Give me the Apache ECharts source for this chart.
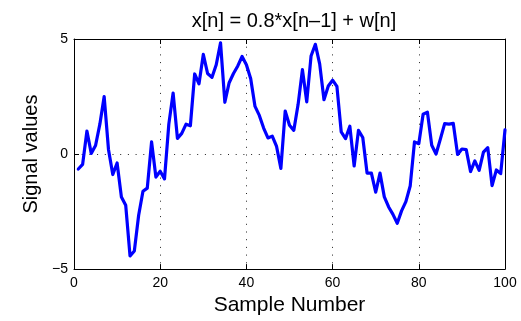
<!DOCTYPE html>
<html>
<head>
<meta charset="utf-8">
<script src="https://cdn.jsdelivr.net/npm/echarts@6/dist/echarts.min.js"></script>
<style>html,body{margin:0;padding:0;background:#fff}#c{width:521px;height:321px}</style>
</head>
<body>
<div id="c"></div>
<script>
var titleText = 'x[n] = 0.8*x[n\u20131] + w[n]';
var xName = 'Sample Number';
var yName = 'Signal values';
var sampleIndex = [];
for (var i = 1; i <= 100; i++) sampleIndex.push(i);
var signalValues = [
 -0.65, -0.45, 1.0, 0.03, 0.37, 1.3, 2.5, 0.2, -0.89, -0.39,
 -1.87, -2.23, -4.43, -4.21, -2.66, -1.62, -1.48, 0.53, -1.0, -0.75,
 -1.08, 1.3, 2.65, 0.68, 0.9, 1.3, 1.23, 3.48, 3.05, 4.33,
 3.5, 3.33, 3.88, 4.83, 2.25, 3.1, 3.5, 3.83, 4.24, 3.88,
 3.27, 2.07, 1.68, 1.13, 0.7, 0.78, 0.33, -0.62, 1.87, 1.25,
 1.03, 2.16, 3.67, 2.27, 4.26, 4.77, 3.92, 2.36, 2.96, 3.21,
 2.94, 0.96, 0.67, 1.21, -0.52, 1.03, 0.72, -0.83, -0.83, -1.66,
 -0.83, -1.86, -2.3, -2.62, -3.01, -2.47, -2.07, -1.39, 0.53, 0.45,
 1.73, 1.82, 0.38, 0.0, 0.65, 1.32, 1.3, 1.33, -0.02, 0.22,
 0.19, -0.76, -0.3, -0.71, 0.08, 0.28, -1.37, -0.69, -0.85, 1.05
];
var xTicks = [0, 20, 40, 60, 80, 100];
var yTicks = [-5, 0, 5];

var font = 'Liberation Sans, Arial, Helvetica, sans-serif';
var chart = echarts.init(document.getElementById('c'), null, {renderer: 'canvas'});
var dotted = {show: true, lineStyle: {color: '#222', width: 1, type: [1, 6.7]}};
function baseX(pos, labels) {
  return {
    type: 'value', position: pos, min: xTicks[0], max: xTicks[xTicks.length - 1],
    interval: xTicks[1] - xTicks[0],
    axisLine: {show: true, onZero: false, lineStyle: {color: '#000', width: 1}},
    axisTick: {show: true, inside: true, length: 5, lineStyle: {color: '#000'}},
    axisLabel: {show: labels, color: '#000', fontSize: 14, fontFamily: font, margin: 7},
    splitLine: labels ? dotted : {show: false}
  };
}
function baseY(pos, labels) {
  return {
    type: 'value', position: pos, min: yTicks[0], max: yTicks[yTicks.length - 1],
    interval: yTicks[1] - yTicks[0],
    axisLine: {show: true, onZero: false, lineStyle: {color: '#000', width: 1}},
    axisTick: {show: true, inside: true, length: 5, lineStyle: {color: '#000'}},
    axisLabel: {show: labels, color: '#000', fontSize: 14, fontFamily: font, margin: 6,
      formatter: function (v) { return v < 0 ? '\u2212' + Math.abs(v) : String(v); }},
    splitLine: labels ? dotted : {show: false}
  };
}
var x0 = baseX('bottom', true);
x0.name = xName; x0.nameLocation = 'middle'; x0.nameGap = 23;
x0.nameTextStyle = {color: '#000', fontSize: 21, fontFamily: font};
var y0 = baseY('left', true);
y0.name = yName; y0.nameLocation = 'middle'; y0.nameGap = 29;
y0.nameTextStyle = {color: '#000', fontSize: 20, fontFamily: font};

var data = sampleIndex.map(function (n, i) { return [n, signalValues[i]]; });
chart.setOption({
  animation: false,
  backgroundColor: '#fff',
  title: {text: titleText, left: 289, top: 6, textAlign: 'center',
    textStyle: {color: '#000', fontSize: 20, fontWeight: 'normal', fontFamily: font}},
  grid: {left: 74, right: 16, top: 39, bottom: 50, containLabel: false},
  xAxis: [x0, baseX('top', false)],
  yAxis: [y0, baseY('right', false)],
  series: [{
    type: 'line', data: data, xAxisIndex: 0, yAxisIndex: 0,
    showSymbol: false, symbol: 'none',
    lineStyle: {color: '#0000ff', width: 3.2, join: 'round', cap: 'round'}
  }]
});
</script>
</body>
</html>
